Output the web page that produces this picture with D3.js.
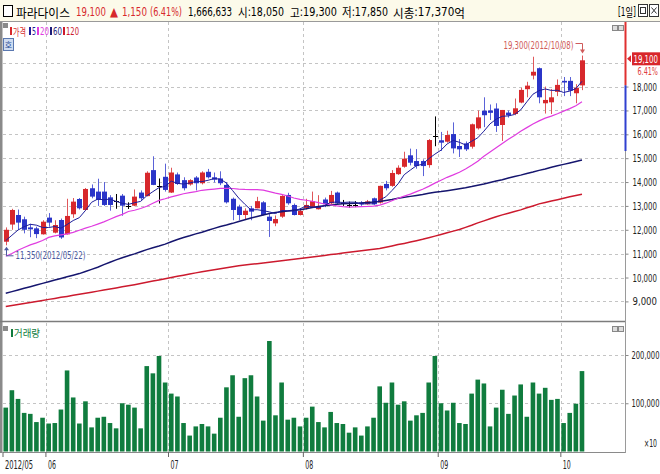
<!DOCTYPE html>
<html><head><meta charset="utf-8">
<script src="https://cdn.jsdelivr.net/npm/d3@7"></script>
<style>
html,body{margin:0;padding:0;background:#fff;}
svg{display:block;}
text{font-family:"Liberation Sans Narrow","DejaVu Sans Condensed","Liberation Sans",sans-serif;}
.kr{font-family:"Noto Sans CJK KR","Noto Sans",sans-serif;}
</style></head><body>
<svg id="c" width="660" height="474"></svg>
<script>
// ---------------- DATA ----------------
const stockName = "파라다이스";
const lastPrice = 19100, change = 1150, changePct = 6.41;
const todayVolume = 1666633, todayOpen = 18050, todayHigh = 19300, todayLow = 17850, marketCapEok = 17370;

const dates = [
"2012/05/22","2012/05/23","2012/05/24","2012/05/25","2012/05/29","2012/05/30","2012/05/31",
"2012/06/01","2012/06/04","2012/06/05","2012/06/07","2012/06/08","2012/06/11","2012/06/12","2012/06/13","2012/06/14","2012/06/15",
"2012/06/18","2012/06/19","2012/06/20","2012/06/21","2012/06/22","2012/06/25","2012/06/26","2012/06/27","2012/06/28","2012/06/29",
"2012/07/02","2012/07/03","2012/07/04","2012/07/05","2012/07/06","2012/07/09","2012/07/10","2012/07/11","2012/07/12","2012/07/13",
"2012/07/16","2012/07/17","2012/07/18","2012/07/19","2012/07/20","2012/07/23","2012/07/24","2012/07/25","2012/07/26","2012/07/27",
"2012/07/30","2012/07/31",
"2012/08/01","2012/08/02","2012/08/03","2012/08/06","2012/08/07","2012/08/08","2012/08/09","2012/08/10","2012/08/13","2012/08/14",
"2012/08/16","2012/08/17","2012/08/20","2012/08/21","2012/08/22","2012/08/23","2012/08/24","2012/08/27","2012/08/28","2012/08/29",
"2012/08/30","2012/08/31",
"2012/09/03","2012/09/04","2012/09/05","2012/09/06","2012/09/07","2012/09/10","2012/09/11","2012/09/12","2012/09/13","2012/09/14",
"2012/09/17","2012/09/18","2012/09/19","2012/09/20","2012/09/21","2012/09/24","2012/09/25","2012/09/26","2012/09/27","2012/09/28",
"2012/10/02","2012/10/04","2012/10/05","2012/10/08"];

const open = [11500,12220,12620,12440,12100,12060,11810,12510,11880,12410,
11810,12650,13290,12830,13740,13600,13600,13360,13220,13430,
13010,13010,13560,13410,14500,13850,14220,13560,14320,14080,
13900,14190,13950,14430,14200,14150,13880,13300,12970,12620,
12900,12900,13150,12550,12270,12550,13460,13040,12620,12900,
12960,12860,13270,13110,13560,13110,13050,13050,13150,13070,
13320,13140,13920,13840,14330,14640,15120,14880,14880,14710,
15930,15750,15690,16010,15510,15620,15480,16250,16990,17000,
17080,16390,16910,16850,17330,17890,18460,18770,17300,17340,
17780,18240,18240,17720,18050];
const high = [12100,12880,12850,12550,12250,12130,12400,12700,12400,12470,
13300,13330,13330,13750,13900,14140,14000,13450,13500,13500,
13150,13690,13650,14450,15080,14150,14770,14600,14400,14200,
14120,14250,14450,14550,14400,14450,14000,13350,13050,12900,
13000,13380,13200,12700,12600,13450,13550,13100,12850,13300,
13600,13450,13350,13630,13600,13250,13180,13200,13200,13250,
13350,13850,14050,14500,14700,15270,15400,15380,14950,15800,
16750,16100,16150,16500,15800,15700,16450,17000,17550,17250,
17300,17020,17000,17500,17950,18200,19250,18800,18000,17900,
18300,18400,18400,18100,19300];
const low = [11350,12000,12000,11850,11690,11650,11800,12130,11850,11620,
11800,12500,12850,12800,13320,13000,13000,12800,12880,12590,
12870,12990,13250,13400,13870,13100,13600,13540,13880,13650,
13850,13650,13900,14150,13980,13870,13100,12400,12400,12450,
12400,12900,12600,11700,12150,12500,13050,12600,12600,12850,
12950,12850,12950,13050,13050,13000,12920,12950,13000,13050,
13040,13100,13650,13800,14300,14600,14700,14560,14250,14600,
15500,15300,15650,15200,15050,15300,15400,16200,16300,16600,
16100,15720,16700,16800,17300,17550,18300,17300,16870,16850,
17600,17600,17600,17300,17850];
const close = [12000,12830,12300,12000,12020,11820,12340,12300,12200,11680,
12580,13180,12900,13710,13390,13250,13040,13040,13220,13010,
13010,13390,13320,14390,13880,13850,13670,14400,13920,13740,
14080,13950,14400,14200,14100,13950,13150,12830,12620,12800,
12760,13200,12620,12370,12450,13420,13110,12620,12790,13040,
13200,12970,13070,13460,13110,13110,13050,13050,13070,13190,
13070,13840,13740,14380,14600,14980,14810,14670,14670,15760,
15930,15650,15970,15410,15370,15370,16420,16710,16800,16900,
16350,17020,16800,17090,17860,18040,18620,17550,17440,17550,
18070,18170,17830,17950,19100];

const ma5 = [11550,11770,11990,12130,12230,12194,12096,12096,12136,12068,
12220,12388,12508,12810,13152,13286,13258,13286,13188,13112,
13064,13134,13190,13424,13598,13766,13822,14038,13944,13916,
13962,14018,14018,14074,14146,14120,13960,13646,13330,13070,
12832,12842,12800,12750,12680,12812,12794,12794,12878,12996,
12952,12924,13014,13148,13162,13144,13160,13156,13078,13094,
13086,13244,13382,13644,13926,14308,14502,14688,14746,14978,
15168,15336,15596,15744,15666,15554,15708,15854,16132,16438,
16634,16754,16772,16830,17022,17360,17680,17830,17900,17838,
17844,17754,17810,17912,18222];
const ma20 = [10890,11010,11140,11260,11370,11450,11550,11680,11745,11785,
11830,11890,11980,12070,12150,12240,12330,12440,12550,12645,
12765,12820,12890,12985,13110,13230,13300,13380,13445,13510,
13560,13600,13655,13680,13705,13735,13737,13730,13705,13690,
13685,13685,13663,13598,13537,13486,13417,13333,13274,13237,
13195,13135,13082,13049,13004,12968,12953,12956,12967,12977,
12995,13036,13114,13219,13323,13412,13494,13600,13697,13820,
13954,14076,14198,14302,14413,14545,14699,14871,15084,15262,
15439,15613,15790,15952,16124,16280,16436,16563,16677,16762,
16860,16973,17075,17198,17362];
const ma60 = [9345,9410,9480,9550,9615,9685,9755,9825,9895,9960,
10030,10095,10165,10250,10340,10430,10540,10640,10740,10830,
10910,10990,11080,11170,11250,11320,11400,11500,11590,11680,
11750,11830,11900,11980,12060,12140,12200,12270,12350,12420,
12490,12560,12620,12680,12720,12760,12790,12820,12840,12880,
12930,12980,13010,13040,13070,13090,13100,13110,13120,13140,
13160,13190,13230,13270,13320,13360,13400,13440,13480,13530,
13570,13600,13640,13680,13720,13760,13810,13870,13920,13980,
14040,14100,14170,14230,14290,14360,14420,14490,14550,14620,
14680,14740,14800,14860,14920];
const ma120 = [8790,8830,8870,8915,8955,9000,9040,9085,9125,9170,
9210,9255,9295,9340,9385,9430,9475,9520,9565,9610,
9655,9700,9750,9800,9850,9900,9950,10000,10050,10100,
10150,10195,10245,10285,10325,10370,10410,10450,10490,10525,
10555,10580,10610,10640,10675,10705,10735,10765,10795,10830,
10860,10895,10925,10960,10990,11025,11055,11090,11120,11155,
11185,11215,11270,11325,11380,11430,11485,11540,11600,11670,
11735,11805,11875,11945,12010,12100,12190,12290,12375,12460,
12545,12625,12695,12765,12835,12920,13000,13085,13145,13205,
13260,13320,13380,13435,13490];
// volume in units of 10 shares (axis "x10")
const volume = [91000,127000,109000,80000,78000,61000,70000,58000,59000,87000,
168000,112000,58000,104000,50000,70000,72000,59000,48000,100000,
97000,91000,48000,177000,162000,198000,143000,120000,114000,59000,
33000,52000,57000,52000,37000,70000,133000,158000,72000,152000,
158000,114000,64000,229000,75000,143000,66000,70000,52000,70000,
93000,61000,50000,82000,59000,57000,39000,50000,33000,52000,
70000,135000,101000,143000,97000,104000,64000,75000,80000,143000,
198000,100000,85000,101000,59000,57000,120000,149000,141000,52000,
91000,128000,78000,116000,139000,72000,143000,120000,132000,107000,
109000,59000,80000,99000,166663];

const priceTicks = [9000,10000,11000,12000,13000,14000,15000,16000,17000,18000,19000];
const volumeTicks = [100000,200000];
const legendNames = ["가격","5","20","60","120"];

// ---------------- DRAW ----------------
const RED = "#d7282c", BLUE = "#2b35c8", GREEN = "#107c3e";
const MA_COL = {"5":"#1d1d9a","20":"#e03ce0","60":"#15156e","120":"#cc1a2e"};
const svg = d3.select("#c");
const fmt = d3.format(",");
const NARROW = "'Liberation Sans Narrow','DejaVu Sans Condensed',sans-serif";
const isKr = ch => /[\u3131-\uD79D]/.test(ch);

function mixed(sel, str){
  const runs = [];
  for (const ch of str){
    const k = isKr(ch);
    if (runs.length && runs[runs.length-1].k===k) runs[runs.length-1].s += ch;
    else runs.push({k, s:ch});
  }
  sel.selectAll("tspan").data(runs).join("tspan")
    .attr("font-family", r => r.k ? "'Noto Sans CJK KR',sans-serif" : NARROW)
    .text(r => r.s);
}
// horizontally scale a text node so its width equals w (anchored at its start x)
function fitW(node, w){
  const L = node.getComputedTextLength();
  if (!L) return;
  const s = w / L;
  const ax = parseFloat(node.getAttribute("x") || 0);
  node.setAttribute("transform", `translate(${ax*(1-s)},0) scale(${s},1)`);
}

const x = d3.scaleBand().domain(dates).range([2.7, 2.7 + dates.length*6.13]).padding(0);
const cx = d => x(d) + x.bandwidth()/2;
const yP = d3.scaleLinear().domain([9000,19000]).range([301.4, 62.7]);
const yV = d3.scaleLinear().domain([0,200000]).range([451.5, 355]);

const P = {l:3, r:625, t:22, b:321};
const V = {t:323, b:452};

svg.append("rect").attr("width",660).attr("height",474).attr("fill","#fff");

// header
svg.append("rect").attr("x",0).attr("y",0).attr("width",660).attr("height",22).attr("fill","#fcfaea");
svg.append("line").attr("x1",0).attr("x2",660).attr("y1",21.5).attr("y2",21.5).attr("stroke","#9a9a9a");
svg.append("rect").attr("x",3.5).attr("y",5.5).attr("width",9).attr("height",11).attr("fill","#fff").attr("stroke","#000");
const hdr = [
  {t:stockName, x:16, w:54, c:"#000"},
  {t:fmt(lastPrice), x:76, w:30, c:RED},
  {t:"▲", x:110, w:8, c:RED},
  {t:fmt(change), x:122, w:25, c:RED},
  {t:"("+changePct.toFixed(2)+"%)", x:150, w:32, c:RED},
  {t:fmt(todayVolume), x:188, w:44, c:"#000"},
  {t:"시:"+fmt(todayOpen), x:238, w:46, c:"#000"},
  {t:"고:"+fmt(todayHigh), x:290, w:47, c:"#000"},
  {t:"저:"+fmt(todayLow), x:342, w:46, c:"#000"},
  {t:"시총:"+fmt(marketCapEok)+"억", x:393, w:72, c:"#000"},
  {t:"[1일]", x:618, w:18, c:"#000"}
];
svg.append("g").selectAll("text").data(hdr).join("text")
  .attr("x",d=>d.x).attr("y",11.5).attr("dominant-baseline","central")
  .attr("font-size",12.5).attr("fill",d=>d.c)
  .each(function(d){ mixed(d3.select(this), d.t); fitW(this, d.w); });
svg.append("rect").attr("x",638.5).attr("y",4.5).attr("width",9).attr("height",12).attr("fill","#fff").attr("stroke","#333");
svg.append("rect").attr("x",640.5).attr("y",7.5).attr("width",5).attr("height",6).attr("fill","none").attr("stroke","#333");
svg.append("rect").attr("x",649.5).attr("y",4.5).attr("width",9).attr("height",12).attr("fill","#fff").attr("stroke","#333");
svg.append("path").attr("d","M651.5,7.5L656.5,13.5M656.5,7.5L651.5,13.5").attr("stroke","#333");

// left border strip
svg.append("rect").attr("x",0).attr("y",22).attr("width",2.5).attr("height",431).attr("fill","#8a8a8a");

// gridlines
const grid = svg.append("g").attr("stroke","#c4c4c4").attr("stroke-dasharray","3,3");
grid.selectAll("line.h").data(priceTicks).join("line").attr("class","h")
  .attr("x1",P.l).attr("x2",P.r).attr("y1",d=>Math.round(yP(d))+0.5).attr("y2",d=>Math.round(yP(d))+0.5);
grid.selectAll("line.v").data(volumeTicks).join("line").attr("class","v")
  .attr("x1",P.l).attr("x2",P.r).attr("y1",d=>Math.round(yV(d))+0.5).attr("y2",d=>Math.round(yV(d))+0.5);
const monthStarts = dates.filter((d,i)=> i===0 || d.slice(5,7)!==dates[i-1].slice(5,7));
const mLines = monthStarts.slice(1);
grid.selectAll("line.mp").data(mLines).join("line").attr("class","mp")
  .attr("x1",d=>Math.round(x(d))+0.5).attr("x2",d=>Math.round(x(d))+0.5).attr("y1",P.t).attr("y2",P.b);
grid.selectAll("line.mv").data(mLines).join("line").attr("class","mv")
  .attr("x1",d=>Math.round(x(d))+0.5).attr("x2",d=>Math.round(x(d))+0.5).attr("y1",V.t).attr("y2",V.b);

// clip
svg.append("clipPath").attr("id","pc").append("rect").attr("x",P.l).attr("y",P.t).attr("width",P.r-P.l).attr("height",P.b-P.t);
const pg = svg.append("g").attr("clip-path","url(#pc)");

// candles
const idx = d3.range(dates.length);
const colr = i => close[i]>open[i] ? RED : close[i]<open[i] ? BLUE : "#000";
const wcol = i => close[i]>open[i] ? "#e0575a" : close[i]<open[i] ? "#5a62d8" : "#000";
pg.append("g").selectAll("line").data(idx).join("line")
  .attr("x1",i=>Math.round(cx(dates[i]))+0.5).attr("x2",i=>Math.round(cx(dates[i]))+0.5)
  .attr("y1",i=>yP(high[i])).attr("y2",i=>yP(low[i])).attr("stroke",wcol).attr("stroke-width",1);
pg.append("g").selectAll("rect").data(idx.filter(i=>open[i]!==close[i])).join("rect")
  .attr("x",i=>Math.round(cx(dates[i]))-2).attr("width",5)
  .attr("y",i=>yP(Math.max(open[i],close[i])))
  .attr("height",i=>Math.max(1,yP(Math.min(open[i],close[i]))-yP(Math.max(open[i],close[i]))))
  .attr("fill",colr);
pg.append("g").selectAll("line").data(idx.filter(i=>open[i]===close[i])).join("line")
  .attr("x1",i=>Math.round(cx(dates[i]))-2).attr("x2",i=>Math.round(cx(dates[i]))+3)
  .attr("y1",i=>Math.round(yP(close[i]))+0.5).attr("y2",i=>Math.round(yP(close[i]))+0.5)
  .attr("stroke","#000");

// moving averages
const maData = {"5":ma5,"20":ma20,"60":ma60,"120":ma120};
const maW = {"5":1,"20":1.2,"60":1.5,"120":1.5};
["120","60","20","5"].forEach(k=>{
  const line = d3.line().x(i=>cx(dates[i])).y(i=>yP(maData[k][i]));
  pg.append("path").attr("d",line(idx)).attr("fill","none").attr("stroke",MA_COL[k]).attr("stroke-width",maW[k]);
});

// annotations
const iMax = d3.maxIndex(high), iMin = d3.minIndex(low);
const ax = Math.round(cx(dates[iMax]))+0.5;
svg.append("text").attr("x",ax-79).attr("y",45.5).attr("dominant-baseline","central").attr("font-size",10.5)
  .attr("fill","#cf5a5a").text(fmt(high[iMax])+"("+dates[iMax]+")").each(function(){ fitW(this,70); });
svg.append("path").attr("d",`M${ax-7},43.5H${ax}V${yP(high[iMax])-5}`).attr("fill","none").attr("stroke","#cf5a5a");
svg.append("path").attr("d",`M${ax-2.5},${yP(high[iMax])-6}L${ax+2.5},${yP(high[iMax])-6}L${ax},${yP(high[iMax])-2}Z`).attr("fill","#cf5a5a");
const bx = Math.round(cx(dates[iMin]))+0.5, by = yP(low[iMin]);
svg.append("text").attr("x",bx+9).attr("y",by+10).attr("dominant-baseline","central").attr("font-size",10.5)
  .attr("fill","#4a58a0").text(fmt(low[iMin])+"("+dates[iMin]+")").each(function(){ fitW(this,70); });
svg.append("path").attr("d",`M${bx+7},${by+10.5}H${bx}V${by+4}`).attr("fill","none").attr("stroke","#4a58a0");
svg.append("path").attr("d",`M${bx-2.5},${by+5}L${bx+2.5},${by+5}L${bx},${by+1.5}Z`).attr("fill","#4a58a0");

// legend
svg.append("rect").attr("x",3).attr("y",23).attr("width",5).attr("height",5).attr("fill","#8a8a8a");
const legCol = [RED, MA_COL["5"], MA_COL["20"], "#1d1d7a", MA_COL["120"]];
const legX = [10, 29, 37, 50, 63], legW = [13, 4, 9, 9, 13];
legendNames.forEach((t,i)=>{
  svg.append("rect").attr("x",legX[i]).attr("y",27).attr("width",2).attr("height",8).attr("fill",legCol[i]);
  const tx = svg.append("text").attr("x",legX[i]+3).attr("y",31.5).attr("dominant-baseline","central")
    .attr("font-size",10).attr("fill",legCol[i]);
  mixed(tx, t);
  fitW(tx.node(), legW[i]);
});
// 호 button
svg.append("rect").attr("x",3.5).attr("y",38.5).attr("width",10).attr("height",12).attr("fill","#cfdcf0").attr("stroke","#5a78b0");
svg.append("text").attr("class","kr").attr("x",8.5).attr("y",44.5).attr("text-anchor","middle").attr("dominant-baseline","central")
  .attr("font-size",8).attr("fill","#2a4f96").text("호");
// panel icons
[25,326].forEach(yy=>{
  svg.append("rect").attr("x",612.5).attr("y",yy+0.5).attr("width",5).attr("height",5).attr("fill","#ddd").attr("stroke","#888");
  svg.append("rect").attr("x",618.5).attr("y",yy+0.5).attr("width",5).attr("height",5).attr("fill","#ddd").attr("stroke","#888");
});

// volume bars
svg.append("g").selectAll("rect").data(idx).join("rect")
  .attr("x",i=>cx(dates[i])-2.3).attr("width",4.6)
  .attr("y",i=>yV(volume[i])).attr("height",i=>yV(0)-yV(volume[i])).attr("fill",GREEN);
svg.append("rect").attr("x",3).attr("y",326).attr("width",5).attr("height",5).attr("fill","#8a8a8a");
svg.append("rect").attr("x",11).attr("y",329).attr("width",2).attr("height",8).attr("fill",GREEN);
svg.append("text").attr("class","kr").attr("x",14).attr("y",333).attr("dominant-baseline","central")
  .attr("font-size",10).attr("fill",GREEN).text("거래량").each(function(){ fitW(this,26); });

// panel frames
svg.append("line").attr("x1",0).attr("x2",P.r).attr("y1",321.5).attr("y2",321.5).attr("stroke","#7c7c7c").attr("stroke-width",1.5);
svg.append("line").attr("x1",P.l).attr("x2",P.r).attr("y1",452.5).attr("y2",452.5).attr("stroke","#8a8a8a");
svg.append("line").attr("x1",P.r+0.5).attr("x2",P.r+0.5).attr("y1",22).attr("y2",453).attr("stroke","#9a9a9a");

// price axis (right)
const pAxis = d3.axisRight(yP).tickValues(priceTicks.filter(v=>v<19000)).tickSize(3).tickPadding(4).tickFormat(fmt);
const pa = svg.append("g").attr("transform",`translate(${P.r+0.5},0)`).call(pAxis);
pa.select(".domain").remove();
pa.selectAll("line").attr("stroke","#888");
pa.selectAll("text").attr("font-size",11).attr("fill","#222").attr("font-family",NARROW)
  .each(function(){ fitW(this,24.5); });

// day-range bar on axis
svg.append("rect").attr("x",P.r-0.5).attr("y",22).attr("width",2).attr("height",yP(todayOpen)-22).attr("fill","#e03030");
svg.append("rect").attr("x",P.r-0.5).attr("y",yP(todayOpen)).attr("width",2).attr("height",yP(15300)-yP(todayOpen)).attr("fill","#3040d0");

// current price tag
const cy = yP(lastPrice)-1.5;
svg.append("rect").attr("x",632).attr("y",cy-6.5).attr("width",28).attr("height",13).attr("fill","#d8262b");
svg.append("text").attr("x",633.5).attr("y",cy).attr("dominant-baseline","central").attr("font-size",11).attr("fill","#fff")
  .attr("font-family",NARROW).text(fmt(lastPrice)).each(function(){ fitW(this,24.5); });
svg.append("path").attr("d",`M627,${cy}L631,${cy-3.5}L631,${cy+3.5}Z`).attr("fill","#d8262b");
svg.append("text").attr("x",637.5).attr("y",cy+13).attr("dominant-baseline","central").attr("font-size",10.5).attr("fill","#e04040")
  .attr("font-family",NARROW).text(changePct.toFixed(2)+"%").each(function(){ fitW(this,20.5); });

// volume axis
const vAxis = d3.axisRight(yV).tickValues(volumeTicks).tickSize(3).tickPadding(3).tickFormat(fmt);
const va = svg.append("g").attr("transform",`translate(${P.r+0.5},0)`).call(vAxis);
va.select(".domain").remove();
va.selectAll("line").attr("stroke","#888");
va.selectAll("text").attr("font-size",10.5).attr("fill","#222").attr("font-family",NARROW)
  .each(function(){ fitW(this,28); });
svg.append("text").attr("x",644).attr("y",444).attr("dominant-baseline","central").attr("font-size",10).attr("fill","#222")
  .attr("font-family",NARROW).text("×10").each(function(){ fitW(this,13); });

// x axis
const xAxis = d3.axisBottom(x).tickValues(monthStarts).tickSize(5).tickPadding(4)
  .tickFormat((d,i)=> i===0 ? d.slice(0,7) : d.slice(5,7));
const xa = svg.append("g").attr("transform",`translate(${-x.bandwidth()/2+0.3},452)`).call(xAxis);
xa.select(".domain").remove();
xa.selectAll("line").attr("stroke","#666");
xa.selectAll("text").attr("text-anchor","start").attr("x",2).attr("font-size",11.5).attr("fill","#222")
  .attr("font-family",NARROW)
  .each(function(d,i){ fitW(this, i===0 ? 28 : 8); });
</script>
</body></html>
